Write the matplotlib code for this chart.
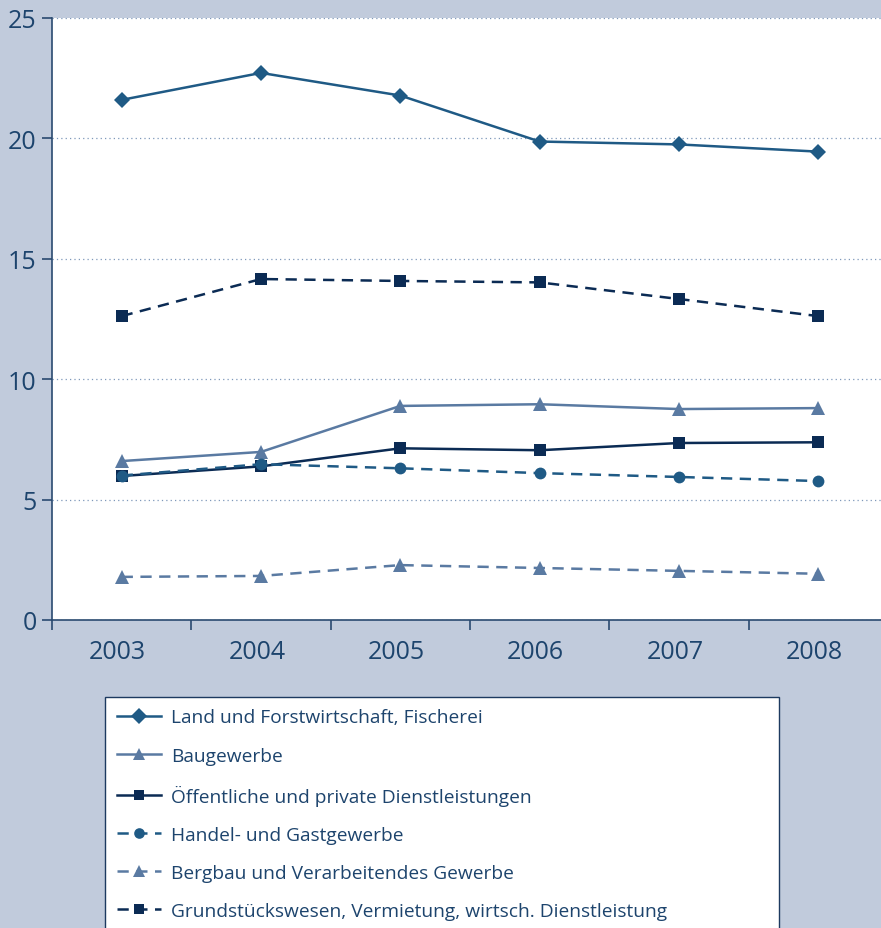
import matplotlib
matplotlib.use('Agg')
import matplotlib.pyplot as plt
from matplotlib.transforms import ScaledTranslation

plt.rcParams['font.family'] = ['Open Sans', 'DejaVu Sans']

years = [2003, 2004, 2005, 2006, 2007, 2008]
land = [21.6, 22.72, 21.78, 19.87, 19.75, 19.45]
bau = [6.6, 6.98, 8.89, 8.96, 8.76, 8.8]
oeff = [5.98, 6.38, 7.13, 7.05, 7.35, 7.38]
handel = [6.0, 6.47, 6.3, 6.1, 5.94, 5.77]
bergbau = [1.79, 1.83, 2.28, 2.16, 2.04, 1.92]
grund = [12.62, 14.16, 14.08, 14.02, 13.33, 12.62]

labels = ['Land und Forstwirtschaft, Fischerei',
          'Baugewerbe',
          'Öffentliche und private Dienstleistungen',
          'Handel- und Gastgewerbe',
          'Bergbau und Verarbeitendes Gewerbe',
          'Grundstückswesen, Vermietung, wirtsch. Dienstleistung']

bg = '#c1cbdc'
c_mid = '#1f5a85'
c_light = '#5a7aa2'
c_dark = '#0b2b54'
txt = '#1d446d'

fig = plt.figure(figsize=(8.81, 9.29), dpi=100, facecolor=bg)
ax = fig.add_axes([52/881, 1-621/929, 1-52/881, (621-19)/929])
ax.set_facecolor('white')

dash = (0, (4.5, 3))
series = [
    (land, c_mid, 'D', '-', 8.5),
    (bau, c_light, '^', '-', 9.5),
    (oeff, c_dark, 's', '-', 8.5),
    (handel, c_mid, 'o', dash, 8.5),
    (bergbau, c_light, '^', dash, 9.5),
    (grund, c_dark, 's', dash, 8.5),
]
handles = []
for (vals, col, mk, ls, ms), lab in zip(series, labels):
    h, = ax.plot(years, vals, color=col, marker=mk, linestyle=ls, linewidth=1.8,
                 markersize=ms, markeredgewidth=0, label=lab, zorder=3)
    handles.append(h)

ax.set_yticks([0, 5, 10, 15, 20, 25])
ax.set_xticks(years)
ax.set_xticks([2002.5 + i for i in range(6)], minor=True)
ax.set_ylim(0, 25)
ax.set_xlim(2002.5, 2008.45)
ax.yaxis.grid(True, linestyle=(0, (1, 2.5)), color='#7f98ba', linewidth=0.9)
ax.set_axisbelow(True)

for s in ['top', 'right']:
    ax.spines[s].set_visible(False)
for s in ['left', 'bottom']:
    ax.spines[s].set_color('#2a4a70')
    ax.spines[s].set_linewidth(1.2)

ax.tick_params(axis='y', direction='out', length=7, width=1.2, color='#2a4a70',
               labelsize=18, labelcolor=txt, pad=4)
ax.tick_params(axis='x', which='major', length=0, labelsize=18, labelcolor=txt, pad=14)
ax.tick_params(axis='x', which='minor', direction='out', length=7, width=1.2,
               color='#2a4a70')
# year labels sit a little left of the points in the original
shift = ScaledTranslation(-4/100, 0, fig.dpi_scale_trans)
for lbl in ax.get_xticklabels():
    lbl.set_transform(lbl.get_transform() + shift)

leg = fig.legend(handles=handles, loc='upper left',
                 bbox_to_anchor=(105/881, 1-698/929, (779-105)/881, 0),
                 mode='expand', fontsize=13.8, frameon=True, fancybox=False,
                 edgecolor='#1d3a60', facecolor='white', framealpha=1,
                 handlelength=2.3, handletextpad=0.55, labelspacing=1.05,
                 borderpad=0.6, borderaxespad=0, markerscale=0.9)
leg.get_frame().set_linewidth(1.0)
for t in leg.get_texts():
    t.set_color(txt)

fig.savefig('out.png', dpi=100, facecolor=bg)
